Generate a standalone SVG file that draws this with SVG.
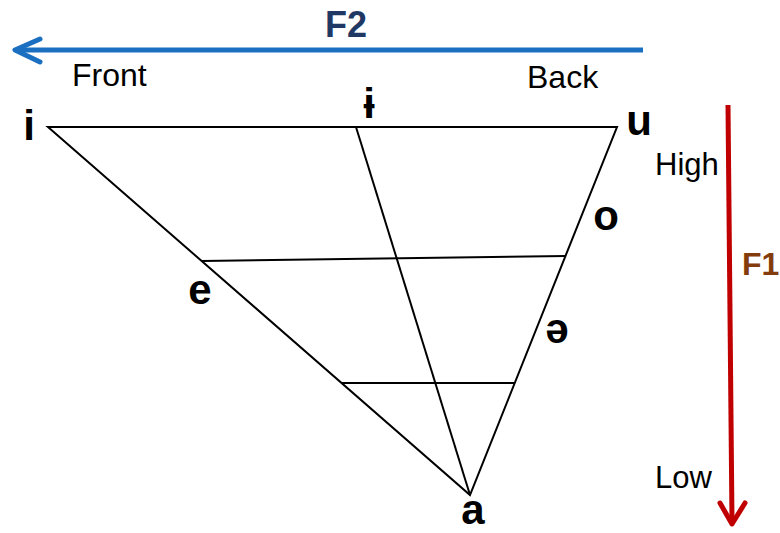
<svg xmlns="http://www.w3.org/2000/svg" width="780" height="533" viewBox="0 0 780 533">
<style>
.v{font-family:"Liberation Sans","DejaVu Sans",Arial,sans-serif;font-weight:bold;font-size:42px;fill:#000;text-anchor:middle}
.l{font-family:"Liberation Sans",Arial,sans-serif;font-size:31px;fill:#000}
.ln{stroke:#000;stroke-width:2;fill:none;stroke-linejoin:miter}
</style>
<rect width="780" height="533" fill="#fff"/>
<g id="connectors">
<polygon class="ln" points="48,127 617,127 470,495"/>
<line class="ln" x1="356" y1="127" x2="470" y2="495"/>
<line class="ln" x1="202" y1="261" x2="566" y2="256"/>
<line class="ln" x1="342" y1="383" x2="514" y2="383"/>
</g>
<g id="f2-axis">
<line x1="643" y1="50" x2="17" y2="50" stroke="#1a6fc0" stroke-width="5"/>
<polyline points="40,39 15,50 40,62" fill="none" stroke="#1a6fc0" stroke-width="5" stroke-linecap="round" stroke-linejoin="round"/>
<text x="325" y="37" style="font-family:'Liberation Sans',Arial,sans-serif;font-weight:bold;font-size:36px;fill:#1f3864">F2</text>
<text class="l" x="72" y="86" style="font-size:32px">Front</text>
<text class="l" x="527" y="88" style="font-size:32px">Back</text>
</g>
<g id="f1-axis">
<line x1="728" y1="105" x2="732" y2="521" stroke="#c00000" stroke-width="5"/>
<polyline points="720,503 732,524 745,503" fill="none" stroke="#c00000" stroke-width="5" stroke-linecap="round" stroke-linejoin="round"/>
<text x="742" y="275" style="font-family:'Liberation Sans',Arial,sans-serif;font-weight:bold;font-size:32px;fill:#843c0c">F1</text>
<text class="l" x="655" y="175">High</text>
<text class="l" x="655" y="488">Low</text>
</g>
<g id="vowel-i"><text class="v" x="29" y="140">i</text></g>
<g id="vowel-barred-i"><text class="v" x="369" y="118">ɨ</text></g>
<g id="vowel-u"><text class="v" x="639" y="135">u</text></g>
<g id="vowel-o"><text class="v" x="606" y="230">o</text></g>
<g id="vowel-e"><text class="v" x="200" y="304">e</text></g>
<g id="vowel-schwa"><text class="v" x="557" y="343">ə</text></g>
<g id="vowel-a"><text class="v" x="473" y="524">a</text></g>
</svg>
